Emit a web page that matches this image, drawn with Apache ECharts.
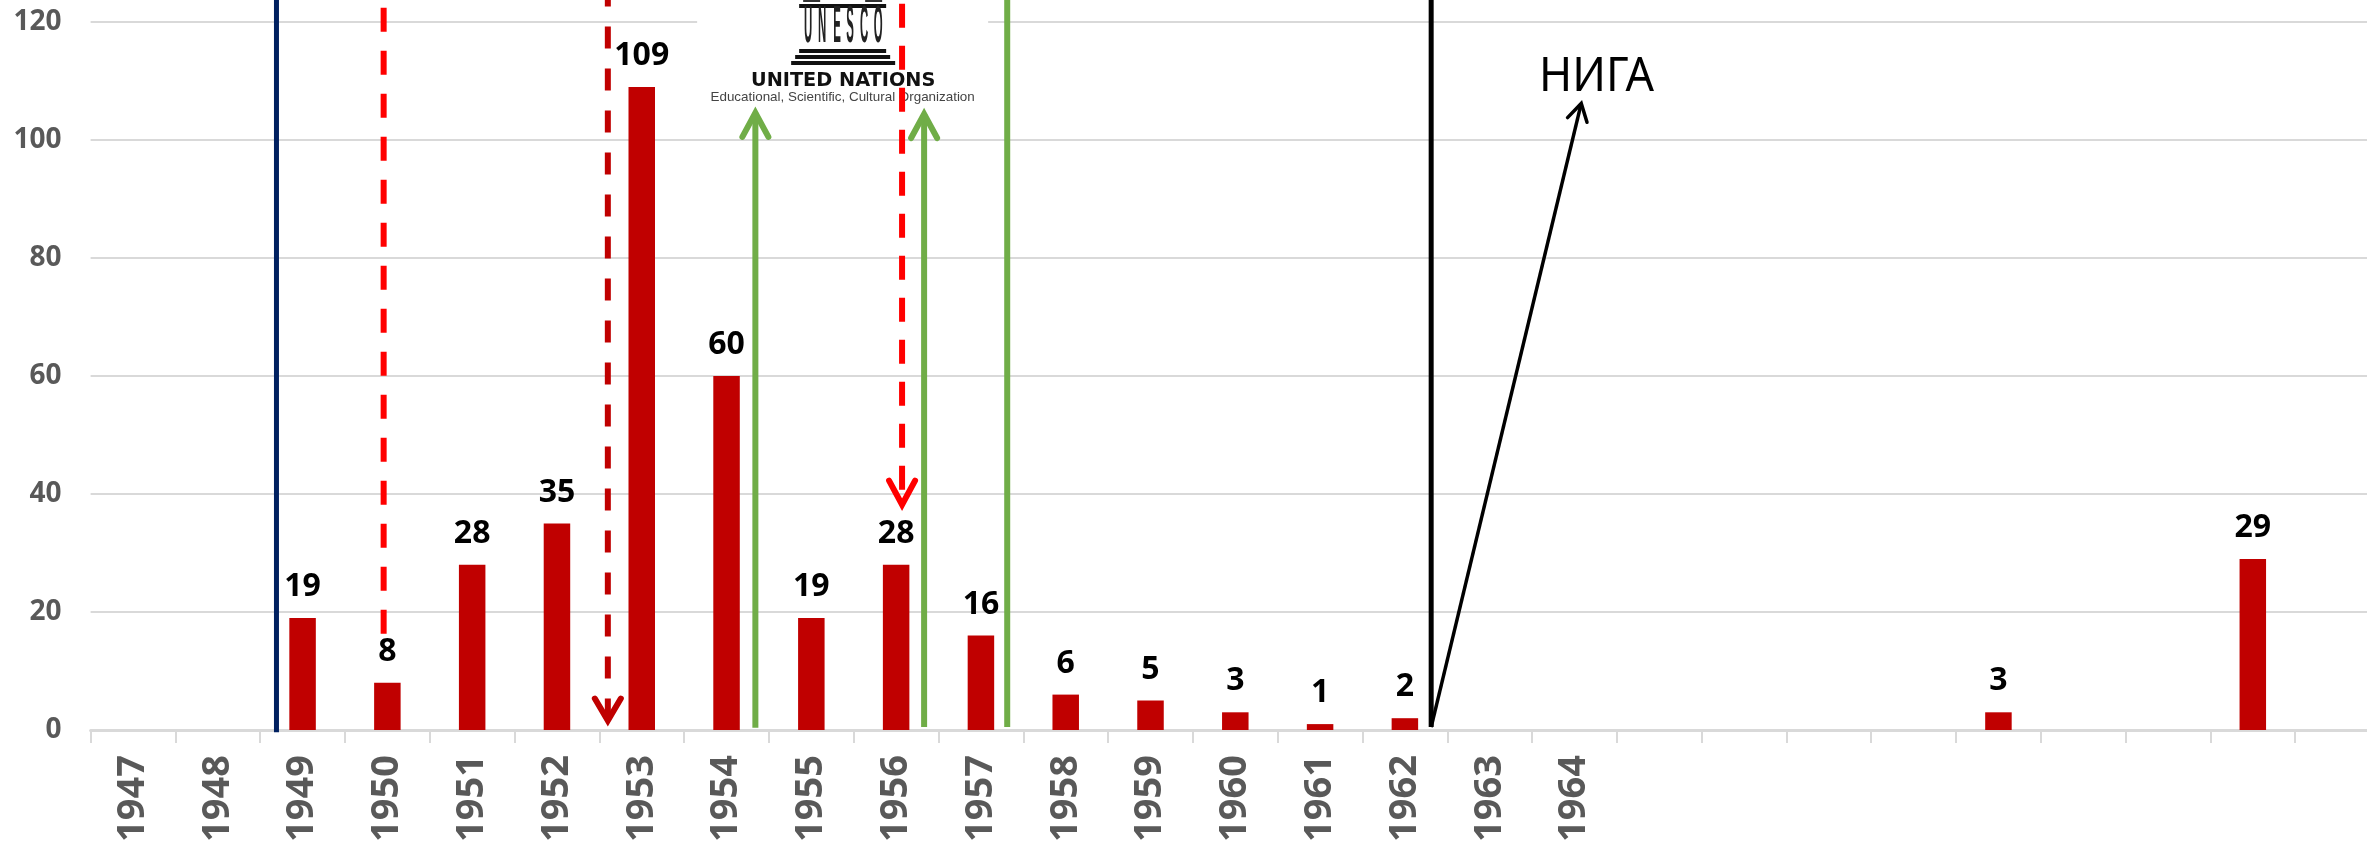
<!DOCTYPE html>
<html><head><meta charset="utf-8">
<script src="https://cdn.jsdelivr.net/npm/echarts@6/dist/echarts.min.js"></script>
<style>html,body{margin:0;padding:0;background:#fff;overflow:hidden}#c{width:2367px;height:845px}</style>
</head><body><div id="c"></div>
<script>
const categories = ['1947','1948','1949','1950','1951','1952','1953','1954','1955','1956','1957','1958','1959','1960','1961','1962','1963','1964','','','','','','','','',''];
const counts = [null,null,19,8,28,35,109,60,19,28,16,6,5,3,1,2,null,null,null,null,null,null,3,null,null,29,null];
const yTicksMax = 120;
const annotationLabel = 'НИГА';
const logoLine1 = 'UNITED NATIONS';
const logoLine2 = 'Educational, Scientific, Cultural Organization';
const logoLetters = ['U','N','E','S','C','O'];

const GREY = '#595959';
const annotations = [
  {from:[2.192,-0.4], to:[2.192,124], color:'#002060', width:5},
  {from:[3.456,16.3], to:[3.456,124], color:'#ff0000', width:6, dash:[24,19]},
  {from:[6.10,1.6], to:[6.10,124], color:'#c00000', width:6, dash:[22,20], tip:[6.10,1.6], hw:13, hl:22},
  {from:[7.84,0.4], to:[7.84,104.6], color:'#70ad47', width:6, tip:[7.84,104.6], hw:13, hl:24},
  {from:[9.57,40.7], to:[9.57,124], color:'#ff0000', width:6, dash:[24,18], tip:[9.57,38.2], hw:13, hl:24},
  {from:[9.83,0.5], to:[9.83,104.4], color:'#70ad47', width:6, tip:[9.83,104.4], hw:13, hl:24},
  {from:[10.81,0.5], to:[10.81,124], color:'#70ad47', width:6},
  {from:[15.81,0.5], to:[15.81,124], color:'#000000', width:5},
  {from:[15.81,0.5], to:[17.58,106.2], color:'#000000', width:3.5, tip:[17.58,106.2], hw:10, hl:17, aim:true}
];

function renderAnnotation(params, api) {
  const a = annotations[params.dataIndex];
  const p0 = api.coord(a.from), p1 = api.coord(a.to);
  const style = {stroke:a.color, lineWidth:a.width, fill:'none', lineDash:a.dash||null, lineCap:'butt'};
  const kids = [{type:'polyline', shape:{points:[p0,p1]}, style}];
  if (a.tip) {
    const t = api.coord(a.tip);
    let dx, dy;
    if (a.aim || a.tip[1] > a.from[1]) { dx = p1[0]-p0[0]; dy = p1[1]-p0[1]; }
    else { dx = p0[0]-p1[0]; dy = p0[1]-p1[1]; }
    const len = Math.hypot(dx,dy); dx/=len; dy/=len;
    const nx=-dy, ny=dx;
    const w1=[t[0]-dx*a.hl+nx*a.hw, t[1]-dy*a.hl+ny*a.hw];
    const w2=[t[0]-dx*a.hl-nx*a.hw, t[1]-dy*a.hl-ny*a.hw];
    kids.push({type:'polyline', shape:{points:[w1,t,w2]},
      style:{stroke:a.color, lineWidth:a.width, fill:'none', lineCap:'round', lineJoin:'miter'}});
  }
  return {type:'group', children:kids};
}

function txt(x,y,text,font,fill,extra){
  return Object.assign({type:'text',x,y,style:{text,font,fill,textAlign:'center',textVerticalAlign:'middle',align:'center',verticalAlign:'middle'}},extra||{});
}
function renderLogo(params, api) {
  const o = api.coord([7.0,120.17]);
  const ox=o[0], oy=o[1];
  const r=(x,y,w,h,fill)=>({type:'rect',shape:{x:ox+x,y:oy+y,width:w,height:h},style:{fill}});
  const kids=[ r(13,-30,291,140,'#ffffff'),
    r(115,-17,87,4,'#111'), r(119,-21,17,2,'#333'), r(181,-21,17,2,'#333'),
    r(115,28,87,4,'#111'), r(111,34,95,4,'#111'), r(107,40,104,4,'#111')];
  const cx=[124,138,153,166,180,194];
  logoLetters.forEach((l,i)=>kids.push(txt(ox+cx[i],oy+7,l,'bold 52px "Liberation Sans"','#222',{scaleX:0.22})));
  kids.push(txt(ox+159,oy+60,logoLine1,'bold 19.3px "DejaVu Sans"','#111'));
  kids.push(txt(ox+158.5,oy+76,logoLine2,'13.4px "Liberation Sans"','#444'));
  return {type:'group',children:kids};
}
function renderLabel(params, api){
  const p=api.coord([17.76,110.6]);
  return txt(p[0],p[1],annotationLabel,'48px "Noto Sans"','#000',{scaleX:0.93});
}

const chart = echarts.init(document.getElementById('c'),null,{renderer:'canvas'});
chart.setOption({
  animation:false,
  backgroundColor:'#ffffff',
  grid:{left:90.6,right:-13,top:22,bottom:115,containLabel:false,outerBoundsMode:'none'},
  xAxis:[
    {type:'category',data:categories,
     axisLine:{show:true,lineStyle:{color:'#d9d9d9',width:3}},
     axisTick:{show:true,interval:0,length:13,lineStyle:{color:'#d9d9d9',width:2}},
     axisLabel:{interval:0,rotate:90,margin:25,padding:[10,0,0,0],color:GREY,fontFamily:'Open Sans',fontWeight:'bold',fontSize:38},
     splitLine:{show:false}},
    {type:'value',min:0,max:27,show:false,splitLine:{show:false}}
  ],
  yAxis:{type:'value',min:0,max:yTicksMax,interval:20,
    axisLine:{show:false},axisTick:{show:false},
    axisLabel:{margin:29,color:GREY,fontFamily:'Open Sans',fontWeight:'bold',fontSize:28},
    splitLine:{show:true,lineStyle:{color:'#d9d9d9',width:2}}},
  series:[
    {type:'custom',xAxisIndex:1,z:1,silent:true,data:[[7,120]],renderItem:renderLogo,clip:false},
    {type:'bar',data:counts,barWidth:26.5,z:2,itemStyle:{color:'#c00000'},
     label:{show:true,position:'top',distance:15,color:'#000',fontFamily:'Open Sans',fontWeight:'bold',fontSize:32}},
    {type:'custom',xAxisIndex:1,z:3,silent:true,data:annotations.map(a=>a.from),renderItem:renderAnnotation,clip:false},
    {type:'custom',xAxisIndex:1,z:4,silent:true,data:[[17,112]],renderItem:renderLabel,clip:false}
  ]
});
</script></body></html>
